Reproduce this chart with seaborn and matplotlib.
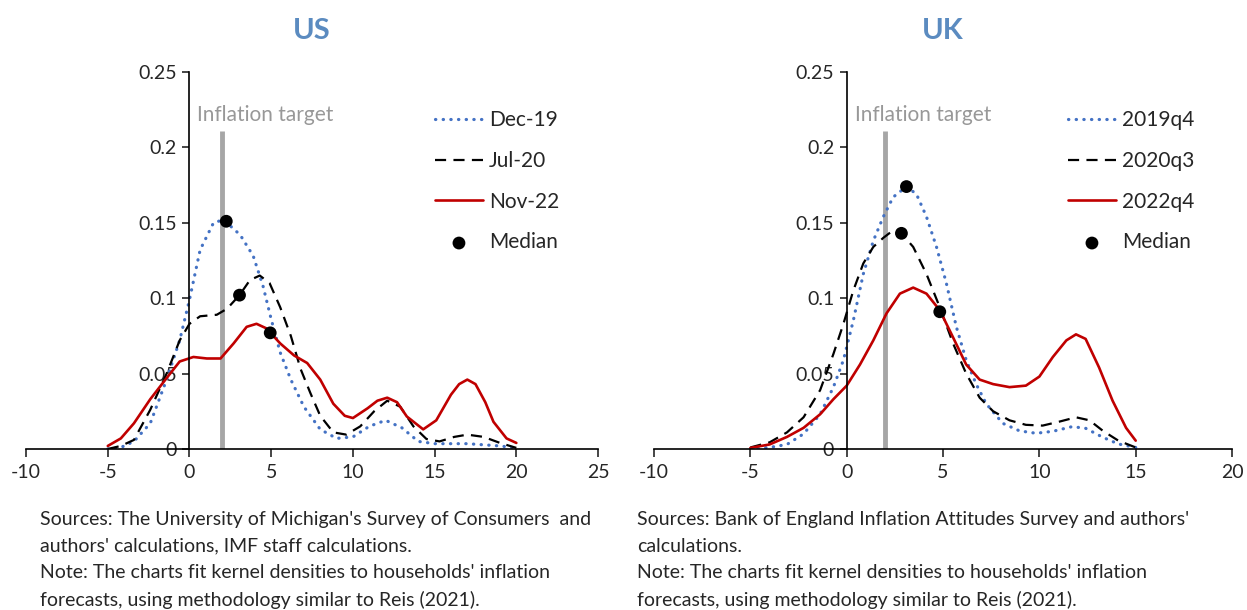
import seaborn as sns
import matplotlib.pyplot as plt
import pandas as pd

# US densities
us_dec19_x = [-5, -4.2, -3.4, -2.4, -1.4, -0.6, 0, 0.65, 1.47, 2.08, 3.1, 3.9, 4.5, 5.0, 5.55, 6.2, 7, 8, 9, 10, 11, 12, 13, 14, 15, 17, 19, 20]
us_dec19_y = [0.0, 0.001, 0.005, 0.017, 0.046, 0.072, 0.099, 0.132, 0.150, 0.152, 0.142, 0.128, 0.108, 0.086, 0.064, 0.046, 0.028, 0.013, 0.007, 0.008, 0.015, 0.019, 0.014, 0.005, 0.0035, 0.0035, 0.002, 0.0007]
us_jul20_x = [-5, -4.2, -3.4, -2.4, -1.4, -0.6, 0, 0.65, 1.67, 2.3, 3.06, 3.7, 4.3, 4.9, 5.55, 6.2, 6.8, 7.4, 8.0, 8.8, 9.6, 10.45, 11.3, 12.1, 12.9, 13.7, 14.5, 15.3, 16.2, 17, 18, 19, 20]
us_jul20_y = [0.0, 0.002, 0.006, 0.026, 0.050, 0.072, 0.083, 0.088, 0.089, 0.093, 0.102, 0.112, 0.115, 0.110, 0.094, 0.075, 0.053, 0.037, 0.022, 0.011, 0.0095, 0.015, 0.025, 0.032, 0.028, 0.015, 0.0066, 0.005, 0.008, 0.0095, 0.008, 0.004, 0.0007]
us_nov22_x = [-5, -4.2, -3.4, -2.4, -1.4, -0.6, 0.24, 1.06, 1.9, 2.7, 3.5, 4.1, 4.7, 5.55, 6.4, 7.2, 8.0, 8.8, 9.5, 10.0, 10.9, 11.5, 12.1, 12.7, 13.3, 14.3, 15.1, 16.0, 16.5, 17.0, 17.5, 18.1, 18.6, 19.4, 20]
us_nov22_y = [0.002, 0.007, 0.017, 0.033, 0.047, 0.058, 0.061, 0.060, 0.060, 0.070, 0.081, 0.083, 0.080, 0.070, 0.062, 0.057, 0.046, 0.030, 0.022, 0.0205, 0.027, 0.032, 0.034, 0.031, 0.0215, 0.013, 0.019, 0.036, 0.043, 0.046, 0.043, 0.031, 0.018, 0.007, 0.004]
us_median_x = [2.25, 3.06, 4.94]
us_median_y = [0.151, 0.102, 0.077]

# UK densities
uk_2019_x = [-5, -4, -3.1, -2.24, -1.38, -0.69, -0.17, 0.34, 0.86, 1.38, 1.9, 2.41, 3.1, 3.62, 4.14, 4.66, 5.17, 5.69, 6.2, 6.72, 7.24, 8.1, 8.97, 9.83, 10.7, 11.7, 12.4, 13.3, 14.1, 15]
uk_2019_y = [0.0, 0.001, 0.003, 0.010, 0.023, 0.041, 0.059, 0.085, 0.116, 0.138, 0.154, 0.167, 0.174, 0.169, 0.154, 0.134, 0.110, 0.081, 0.059, 0.043, 0.030, 0.017, 0.012, 0.0104, 0.0117, 0.0148, 0.0137, 0.0077, 0.0033, 0.001]
uk_2020_x = [-5, -4, -3.1, -2.24, -1.38, -0.69, -0.17, 0.34, 0.86, 1.38, 1.9, 2.41, 2.84, 3.45, 4.14, 4.83, 5.52, 6.2, 6.9, 7.6, 8.45, 9.3, 10.17, 11.0, 11.9, 12.6, 13.3, 14.1, 15]
uk_2020_y = [0.001, 0.0044, 0.011, 0.021, 0.039, 0.063, 0.083, 0.105, 0.123, 0.134, 0.140, 0.145, 0.143, 0.134, 0.116, 0.094, 0.070, 0.050, 0.034, 0.025, 0.019, 0.016, 0.0155, 0.018, 0.021, 0.019, 0.012, 0.0055, 0.001]
uk_2022_x = [-5, -4, -3.1, -2.24, -1.38, -0.69, 0, 0.69, 1.38, 2.07, 2.76, 3.45, 4.14, 4.83, 5.52, 6.2, 6.9, 7.6, 8.45, 9.3, 10.0, 10.7, 11.4, 11.9, 12.4, 13.1, 13.8, 14.5, 15]
uk_2022_y = [0.0007, 0.003, 0.008, 0.014, 0.023, 0.033, 0.042, 0.056, 0.072, 0.090, 0.103, 0.107, 0.103, 0.092, 0.074, 0.056, 0.046, 0.043, 0.041, 0.042, 0.048, 0.061, 0.072, 0.076, 0.073, 0.054, 0.032, 0.014, 0.0055]
uk_median_x = [3.10, 2.84, 4.83]
uk_median_y = [0.174, 0.143, 0.091]

target = 2
target_top = 0.211

us_labels = ["Dec-19", "Jul-20", "Nov-22"]
uk_labels = ["2019q4", "2020q3", "2022q4"]

sources_us = ("Sources: The University of Michigan's Survey of Consumers  and\n"
              "authors' calculations, IMF staff calculations.\n"
              "Note: The charts fit kernel densities to households' inflation\n"
              "forecasts, using methodology similar to Reis (2021).")
sources_uk = ("Sources: Bank of England Inflation Attitudes Survey and authors'\n"
              "calculations.\n"
              "Note: The charts fit kernel densities to households' inflation\n"
              "forecasts, using methodology similar to Reis (2021).")

sns.set_style("ticks")
plt.rcParams['font.family'] = ['Lato', 'DejaVu Sans']
plt.rcParams['axes.unicode_minus'] = False

BLUE = "#4472C4"
RED = "#C00000"
TITLE = "#5B8BC0"
GREY = "#A6A6A6"

W, H = 1247, 610
fig = plt.figure(figsize=(12.47, 6.10), dpi=100)
ax_us = fig.add_axes([0.0209, 0.264, 0.4587, 0.618])
ax_uk = fig.add_axes([0.5245, 0.264, 0.4635, 0.618])


def panel(ax, series, labels, mx, my, xlim, title, leg_px):
    styles = [dict(color=BLUE, linestyle=(0, (0.1, 2.3)), linewidth=2.3, dash_capstyle="round"),
              dict(color="black", linestyle=(0, (5.0, 3.3)), linewidth=1.6),
              dict(color=RED, linestyle="-", linewidth=1.9)]
    for (xs, ys), lab, st in zip(series, labels, styles):
        df = pd.DataFrame({"x": xs, "y": ys})
        sns.lineplot(data=df, x="x", y="y", ax=ax, label=lab, sort=False, **st)
    ax.vlines(target, 0, target_top, color=GREY, linewidth=3.5, zorder=1)
    ax.text(target - 1.55, target_top + 0.004, "Inflation target", color="#989898",
            fontsize=15, ha="left", va="bottom")
    sns.scatterplot(x=mx, y=my, ax=ax, color="black", s=85, edgecolor="none",
                    label="Median", zorder=5)
    ax.set_xlim(*xlim)
    ax.set_ylim(0, 0.25)
    ax.set_xticks(range(xlim[0], xlim[1] + 1, 5))
    ax.set_yticks([0, 0.05, 0.1, 0.15, 0.2, 0.25])
    ax.set_yticklabels(["0", "0.05", "0.1", "0.15", "0.2", "0.25"])
    ax.spines['left'].set_position(('data', 0))
    ax.spines['right'].set_visible(False)
    ax.spines['top'].set_visible(False)
    for s in ("left", "bottom"):
        ax.spines[s].set_color("black")
        ax.spines[s].set_linewidth(1.2)
    ax.tick_params(axis="x", length=6, width=1.2, pad=5, labelsize=14)
    ax.tick_params(axis="y", length=5, width=1.2, pad=4, labelsize=14)
    ax.set_xlabel("")
    ax.set_ylabel("")
    ax.set_title(title, color=TITLE, fontsize=21, fontweight="bold", pad=24)
    ax.legend(loc="upper left", bbox_to_anchor=(leg_px / W, 1 - 110 / H),
              bbox_transform=fig.transFigure, frameon=False, fontsize=15,
              handlelength=2.3, labelspacing=1.0, handletextpad=0.3, borderpad=0,
              borderaxespad=0)


panel(ax_us, [(us_dec19_x, us_dec19_y), (us_jul20_x, us_jul20_y), (us_nov22_x, us_nov22_y)],
      us_labels, us_median_x, us_median_y, (-10, 25), "US", 435)
panel(ax_uk, [(uk_2019_x, uk_2019_y), (uk_2020_x, uk_2020_y), (uk_2022_x, uk_2022_y)],
      uk_labels, uk_median_x, uk_median_y, (-10, 20), "UK", 1068)

fig.text(40 / W, 1 - 511 / H, sources_us, fontsize=14, va="top", ha="left", linespacing=1.68)
fig.text(637 / W, 1 - 511 / H, sources_uk, fontsize=14, va="top", ha="left", linespacing=1.68)

fig.savefig("out.png", dpi=100)
